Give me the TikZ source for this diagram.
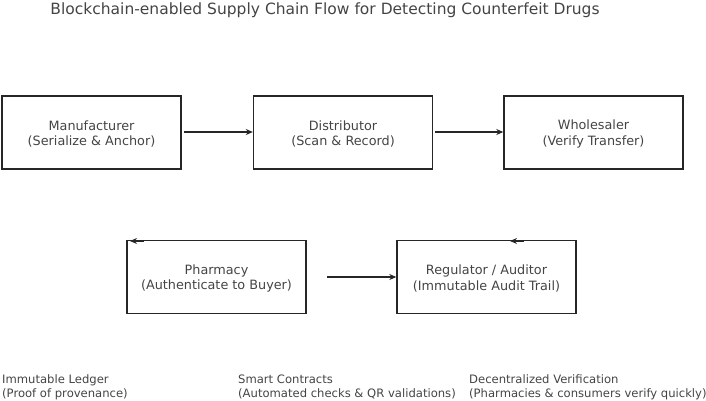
\documentclass[tikz,border=0pt]{standalone}
\usepackage{fontspec}
\setmainfont{DejaVu Sans}
\usetikzlibrary{arrows.meta}
\definecolor{txt}{HTML}{444444}
\begin{document}
\begin{tikzpicture}[x=1pt,y=-1pt,
  box/.style={draw=black!85,line width=1.4pt,minimum width=179pt,minimum height=73pt,inner sep=0pt},
  lbl/.style={align=center,inner sep=0pt,font=\fontsize{12.8}{15.5}\selectfont,text=txt},
  flow/.style={-{Stealth[length=7pt,width=6pt]},line width=1.6pt,black!85},
  note/.style={anchor=north west,align=left,inner sep=0pt,text height=10pt,font=\fontsize{11.6}{13.5}\selectfont,text=txt}]
\useasboundingbox (0,0) rectangle (706,400);
\node[anchor=north,inner sep=0pt,font=\fontsize{15.5}{18}\selectfont,text=txt] (title) at (325,3) {Blockchain-enabled Supply Chain Flow for Detecting Counterfeit Drugs};
\node[box] (man) at (91.5,132.5) {};
\node[box] (dis) at (343,132.5) {};
\node[box] (who) at (593.5,132.5) {};
\node[box] (pha) at (216.5,277) {};
\node[box] (reg) at (486.5,277) {};
\node[lbl] (manl) at ([yshift=-1.5pt]man.center) {Manufacturer\\(Serialize \& Anchor)};
\node[lbl] (disl) at ([yshift=-1.5pt]dis.center) {Distributor\\(Scan \& Record)};
\node[lbl] (whol) at ([yshift=-1.5pt]who.center) {Wholesaler\\(Verify Transfer)};
\node[lbl] (phal) at ([yshift=-1.5pt]pha.center) {Pharmacy\\(Authenticate to Buyer)};
\node[lbl] (regl) at ([yshift=-1.5pt]reg.center) {Regulator / Auditor\\(Immutable Audit Trail)};
\draw[flow] ([xshift=2pt,yshift=0.5pt]man.east) -- ([yshift=0.5pt]dis.west);
\draw[flow] ([xshift=2pt,yshift=0.5pt]dis.east) -- ([yshift=0.5pt]who.west);
\coordinate (pstart) at (327,277);
\draw[flow] (pstart) -- (reg.west);
\coordinate (ptip) at (130,241);
\coordinate (rtip) at (510,241);
\draw[flow] ([xshift=14pt]ptip) -- (ptip);
\draw[flow] ([xshift=14pt]rtip) -- (rtip);
\node[note] (n1) at (2,387) {Immutable Ledger\\(Proof of provenance)};
\node[note] (n2) at (238,387) {Smart Contracts\\(Automated checks \& QR validations)};
\node[note] (n3) at (469,387) {Decentralized Verification\\(Pharmacies \& consumers verify quickly)};
\end{tikzpicture}
\end{document}
